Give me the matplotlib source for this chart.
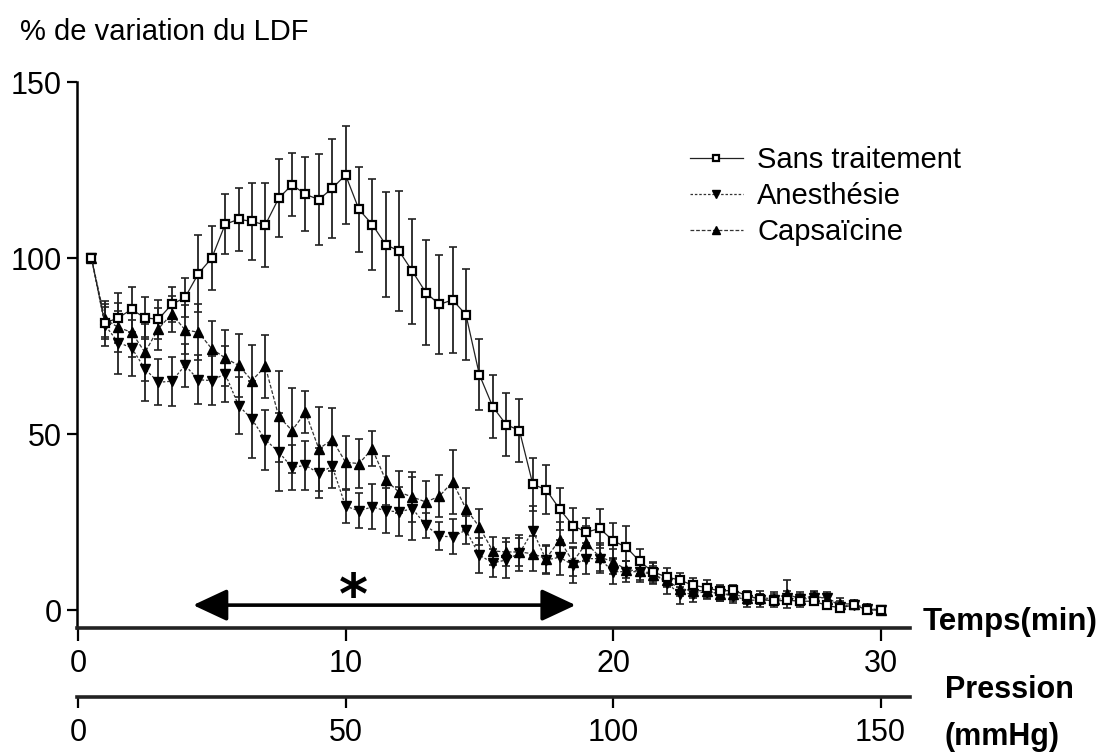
import matplotlib

matplotlib.use("Agg")

import matplotlib.pyplot as plt
import numpy as np

plt.rcParams["font.family"] = ["Liberation Sans", "DejaVu Sans"]

# temps de mesure (min), une mesure toutes les 30 s
temps = np.arange(0.5, 30.01, 0.5)

sans_traitement = [
    100, 81.5, 83, 85.4, 83, 82.6, 86.8, 88.8, 95.6, 100,
    109.6, 111, 110.4, 109.4, 117, 120.8, 118.1, 116.6, 119.8, 123.6,
    113.8, 109.5, 103.8, 102, 96.2, 90.2, 86.8, 88.1, 83.9, 66.9,
    57.8, 52.7, 51, 35.7, 34.2, 28.7, 24, 22.1, 23.2, 19.7,
    17.8, 13.8, 10.8, 9.4, 8.5, 7, 6.4, 5.3, 5.7, 4,
    3.2, 2.5, 2.8, 2.5, 2.5, 1.3, 0.6, 1.5, 0, 0,
]
err_sans = [
    0, 4.5, 7, 6.5, 6, 5.5, 5, 5.5, 11, 9,
    8.5, 9, 11, 12, 11, 9, 10.5, 13, 14, 14,
    12, 13, 15, 17, 15, 15, 14, 15, 13, 10,
    9, 9, 9, 7.5, 7, 6, 5, 4, 5.5, 5,
    6, 3.5, 2.5, 2.5, 2, 2, 2, 1.8, 1.5, 1.5,
    1.5, 1.2, 1.2, 1.5, 1.2, 1, 1, 1, 0.8, 0.8,
]

anesthesie = [
    100, 81, 76, 74.5, 68.5, 64.7, 65, 69.5, 65.4, 65.2,
    67.1, 58.1, 54.2, 48.4, 44.9, 40.5, 41.1, 38.9, 40.8, 29.5,
    28.2, 29.3, 28.2, 27.9, 28.8, 24.1, 21, 20.8, 22.7, 15.6,
    13.4, 14.2, 16.2, 22.5, 14.2, 15, 12.8, 14.6, 14.6, 10.9,
    10.9, 10.9, 10.6, 7.6, 4.7, 4.7, 5.2, 4.7, 4, 2.8,
    2.8, 2.8, 3.5, 3, 3.5, 3.5, 1, 1.5, 0.3, 0,
]
err_anes = [
    0, 6, 9, 8, 9, 6.5, 7, 6, 7, 7,
    8, 8, 11, 8.5, 11, 6.5, 7, 7, 6, 4.7,
    5, 6.4, 6.4, 7, 9, 3.5, 4, 5, 4, 5,
    4, 5, 5, 7, 4, 5, 5, 4.5, 4, 3.5,
    3, 3, 3, 3, 3, 2.5, 2, 2, 2, 1.8,
    1.8, 1.8, 1.8, 1.5, 1.5, 1.5, 1.5, 1.2, 1.2, 1,
]

capsaicine = [
    100, 82.7, 80.3, 78.9, 73.2, 79.9, 84.1, 79.6, 78.9, 74.2,
    71.6, 69.5, 65.2, 69.2, 55, 51, 56.2, 45.8, 48.4, 42,
    41.6, 45.8, 36.9, 33.5, 32.1, 30.7, 32.3, 36.4, 28.8, 23.6,
    16.8, 16.5, 16.5, 16, 14.6, 20, 13.7, 19, 15.1, 13.7,
    11.5, 11, 10, 8.5, 6, 5.5, 5.5, 4.5, 4.5, 3.5,
    3.5, 3.2, 4.5, 3.2, 4, 3.2, 1.8, 1.7, 0.5, 0,
]
err_caps = [
    0, 5, 7, 7, 8, 6, 5, 7, 8, 8,
    8, 9, 10, 9, 13, 12, 6, 12, 9, 7.5,
    7, 5, 7, 6, 7, 6, 6, 9, 6, 5,
    4, 4, 4, 5, 4, 5, 4, 5, 4, 3.5,
    2.5, 2.5, 2.5, 2, 2, 2, 2, 2, 1.8, 1.8,
    1.8, 1.8, 4, 1.8, 1.5, 1.5, 1.5, 1.2, 1.2, 1,
]

pression_ticks = [0, 50, 100, 150]
temps_ticks = [0, 10, 20, 30]
ldf_ticks = [0, 50, 100, 150]

W, H = 1117, 755
fig = plt.figure(figsize=(W / 100, H / 100), dpi=100)

x0, x1 = 77, 910
y_top, y_bot = 82, 628
ax = fig.add_axes([x0 / W, 1 - y_bot / H, (x1 - x0) / W, (y_bot - y_top) / H])
ax.set_xlim(-0.04, 31.1)
ax.set_ylim(-5.1, 150)

ebar = dict(fmt="none", ecolor="#222222", elinewidth=1.3, capsize=3, capthick=1.2)
ax.errorbar(temps, anesthesie, yerr=err_anes, **ebar)
ax.errorbar(temps, capsaicine, yerr=err_caps, **ebar)
ax.errorbar(temps, sans_traitement, yerr=err_sans, **ebar)

ax.plot(temps, anesthesie, color="#333333", lw=0.9, ls=(0, (2, 1.5)),
        marker="v", ms=7.5, mfc="black", mec="black", label="Anesthésie", zorder=3)
ax.plot(temps, capsaicine, color="#333333", lw=0.9, ls=(0, (3, 1.5)),
        marker="^", ms=7.5, mfc="black", mec="black", label="Capsaïcine", zorder=3)
ax.plot(temps, sans_traitement, color="#222222", lw=0.9,
        marker="s", ms=5.5, mfc="white", mec="black", mew=1.6,
        label="Sans traitement", zorder=4)

handles, labels = ax.get_legend_handles_labels()
order = [2, 0, 1]
ax.legend([handles[i] for i in order], [labels[i] for i in order],
          loc="upper left", bbox_to_anchor=((690 - x0) / (x1 - x0), 1 - (146 - y_top) / (y_bot - y_top)),
          frameon=False, fontsize=21, handlelength=1.8, handletextpad=0.5,
          labelspacing=0.28, borderpad=0, borderaxespad=0, markerscale=0.7)

# intervalle significatif
ax.annotate("", xy=(18.6, 1.4), xytext=(4.3, 1.4),
            arrowprops=dict(arrowstyle="<|-|>,head_length=0.75,head_width=0.35",
                            lw=2.6, color="black", mutation_scale=28, shrinkA=0, shrinkB=0))
ax.text(10.3, 3.5, "*", fontsize=40, fontweight="bold", ha="center", va="center",
        family="DejaVu Sans")

for side in ["top", "right"]:
    ax.spines[side].set_visible(False)
ax.spines["left"].set_linewidth(1.8)
ax.spines["left"].set_bounds(-5.1, 150)
ax.spines["bottom"].set_linewidth(2.6)
ax.spines["bottom"].set_color("#222222")
ax.set_xticks(temps_ticks)
ax.set_yticks(ldf_ticks)
ax.tick_params(axis="both", direction="out", labelsize=22, width=1.6, color="black")
ax.tick_params(axis="y", length=7, pad=4)
ax.tick_params(axis="x", length=9, pad=6)

# axe de pression
yp = 697
axp = fig.add_axes([x0 / W, 1 - yp / H, (x1 - x0) / W, 0.0001])
axp.set_xlim(-0.2, 155.5)
axp.set_yticks([])
for side in ["top", "right", "left"]:
    axp.spines[side].set_visible(False)
axp.spines["bottom"].set_linewidth(2.6)
axp.spines["bottom"].set_color("#222222")
axp.patch.set_visible(False)
axp.set_xticks(pression_ticks)
axp.tick_params(axis="x", direction="out", length=8, width=1.6, labelsize=22, pad=7)

fig.text(20 / W, 1 - 32 / H, "% de variation du LDF", fontsize=21, va="center", ha="left")
fig.text(923 / W, 1 - 622 / H, "Temps(min)", fontsize=22.5, fontweight="bold", va="center", ha="left")
fig.text(945 / W, 1 - 690 / H, "Pression", fontsize=22, fontweight="bold", va="center", ha="left")
fig.text(945 / W, 1 - 737 / H, "(mmHg)", fontsize=22, fontweight="bold", va="center", ha="left")

fig.savefig("out.png", dpi=100)
